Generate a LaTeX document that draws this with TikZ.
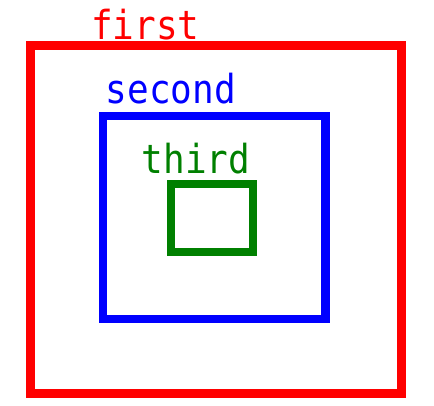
\documentclass[tikz,border=0pt]{standalone}
\usepackage{fontspec}
\newfontfamily\labelfont{DejaVu Sans Mono}
\usetikzlibrary{positioning}

\begin{document}
\begin{tikzpicture}[x=1pt, y=-1pt,
  box/.style = {draw, line width=8.5pt, inner sep=0pt, outer sep=0pt},
  lbl/.style = {anchor=base west, inner sep=0pt, xscale=0.9, transform shape,
                font=\labelfont\fontsize{40}{40}\selectfont}]
\useasboundingbox (0,0) rectangle (434,406);
\node[box, draw=red, minimum width=371.4pt, minimum height=348.4pt] (first) at (216,219.5) {};
\node[box, draw=blue, minimum width=222.7pt, minimum height=203pt] (second) at (214.35,217.5) {};
\node[box, draw=green!50!black, minimum width=81.6pt, minimum height=68.4pt] (third) at (212,218) {};
% labels
\node[lbl, text=red] (firstlabel) at (91,39.5) {first};
\node[lbl, text=blue] (secondlabel) at (105.5,104) {second};
\node[lbl, text=green!50!black] (thirdlabel) at (141.5,174) {third};
\end{tikzpicture}
\end{document}
